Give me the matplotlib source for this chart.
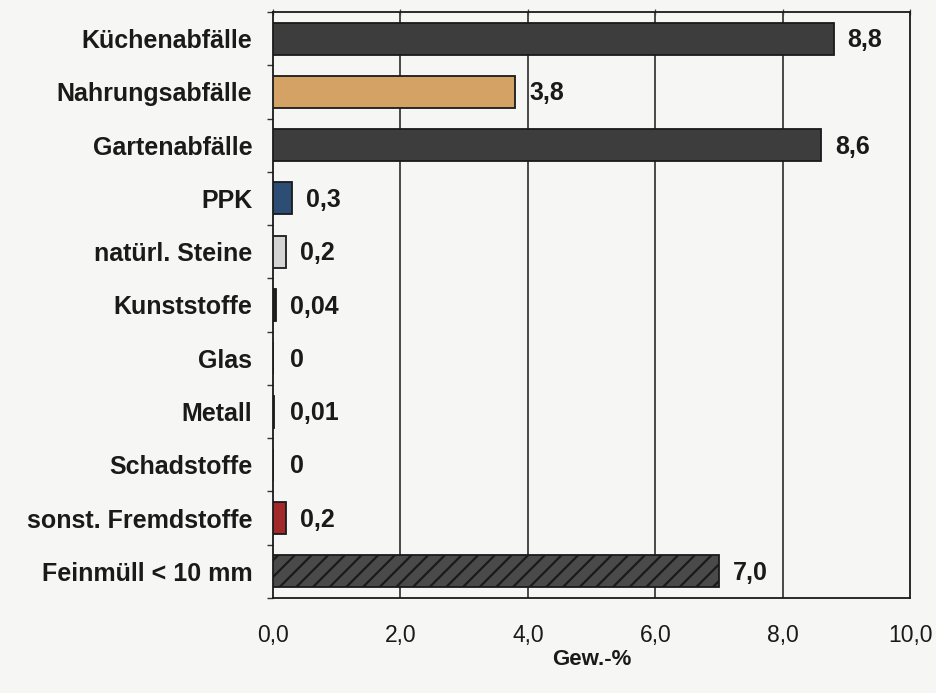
import matplotlib
matplotlib.use("Agg")
import matplotlib.pyplot as plt
from matplotlib.ticker import FixedLocator

plt.rcParams['font.family'] = ['Liberation Sans', 'DejaVu Sans']
plt.rcParams['hatch.color'] = 'white'
plt.rcParams['hatch.linewidth'] = 1.6

categories = ["Küchenabfälle", "Nahrungsabfälle", "Gartenabfälle", "PPK",
              "natürl. Steine", "Kunststoffe", "Glas", "Metall",
              "Schadstoffe", "sonst. Fremdstoffe", "Feinmüll < 10 mm"]
values = [8.8, 3.8, 8.6, 0.3, 0.2, 0.04, 0.0, 0.01, 0.0, 0.2, 7.0]
colors = ["#3d3d3d", "#d3a264", "#3d3d3d", "#2c4d74", "#d4d4d4", "#222222",
          "#222222", "#222222", "#222222", "#a3282a", "#4a4a4a"]
hatches = [None] * 10 + ["//"]
x_ticks = [0, 2, 4, 6, 8, 10]

INK = "#1a1a1a"
BOLD_SIZE = 18
TICK_SIZE = 16.5


def de_fmt(v):
    if v == 0:
        return "0"
    if v < 0.1:
        return f"{v:.2f}".replace(".", ",")
    return f"{v:.1f}".replace(".", ",")


fig = plt.figure(figsize=(9.36, 6.93), dpi=100, facecolor="#f6f6f4")
ax = fig.add_axes([0.2917, 0.1371, 0.6806, 0.8456])
ax.set_facecolor("#f6f6f4")

ypos = list(range(len(categories)))
for y, v, c, h in zip(ypos, values, colors, hatches):
    ax.barh(y, v, height=0.6, color=c, edgecolor=INK, linewidth=1.3,
            hatch=h, zorder=3)
    ax.text(v + 0.22 if v > 0.1 else 0.26, y + 0.03, de_fmt(v), va="center",
            ha="left", fontsize=BOLD_SIZE, fontweight="bold", color=INK,
            zorder=4)

ax.set_ylim(len(categories) - 0.5, -0.5)
ax.set_xlim(0, 10)
ax.set_yticks(ypos)
ax.set_yticklabels(categories, fontsize=BOLD_SIZE, fontweight="bold", color=INK)
ax.yaxis.set_minor_locator(FixedLocator([i - 0.5 for i in range(len(categories) + 1)]))
ax.tick_params(axis="y", which="major", length=0, pad=15)
ax.tick_params(axis="y", which="minor", length=4, width=1, direction="out",
               color="#333333")

ax.set_xticks(x_ticks)
ax.set_xticklabels([f"{t:.1f}".replace(".", ",") for t in x_ticks],
                   fontsize=TICK_SIZE, color=INK)
ax.tick_params(axis="x", which="major", length=4, width=0.9, top=True,
               bottom=False, labelbottom=True, direction="inout",
               color="#444444", pad=17)

for x in x_ticks[1:-1]:
    ax.axvline(x, color=INK, linewidth=1.1, zorder=1)

for s in ax.spines.values():
    s.set_color(INK)
    s.set_linewidth(1.3)

ax.set_xlabel("Gew.-%", fontsize=16, fontweight="bold", color=INK,
              labelpad=1)

fig.savefig("out.png", dpi=100, facecolor=fig.get_facecolor())
